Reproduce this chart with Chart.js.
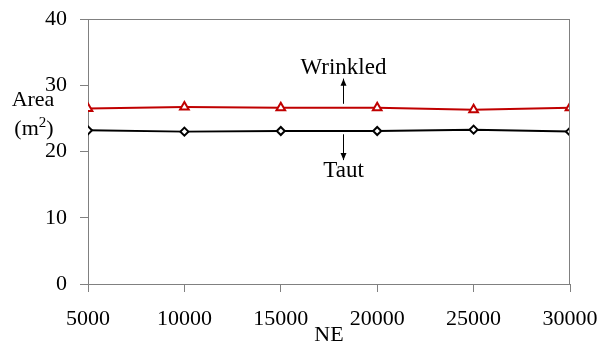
<!DOCTYPE html>
<html>
<head>
<meta charset="utf-8">
<script src="https://cdn.jsdelivr.net/npm/chart.js@4"></script>
<style>
html,body{margin:0;padding:0;background:#fff;}
#wrap{width:599px;height:348px;}
</style>
</head>
<body>
<div id="wrap"><canvas id="c" width="599" height="348"></canvas></div>
<script>
const categories = [5000, 10000, 15000, 20000, 25000, 30000];
const wrinkled = [26.5, 26.7, 26.6, 26.6, 26.3, 26.6];
const taut = [23.2, 23.0, 23.1, 23.1, 23.3, 23.0];
const yTicks = [0, 10, 20, 30, 40];
const xTitle = 'NE';
const yTitleLines = ['Area', '(m²)'];
const annotations = [
  {label: 'Wrinkled', x: 18250, from: 27.2, to: 31.0, textY: 32.6},
  {label: 'Taut', x: 18250, from: 22.6, to: 18.7, textY: 17.1}
];

const FONT = "'Liberation Serif', 'Times New Roman', serif";
const AXIS = '#808080';

const overlay = {
  id: 'overlay',
  afterDraw(chart) {
    const ctx = chart.ctx, a = chart.chartArea;
    const xs = chart.scales.x, ys = chart.scales.y;
    ctx.save();
    ctx.strokeStyle = AXIS; ctx.lineWidth = 1;
    ctx.beginPath();
    ctx.moveTo(a.left, a.top + 0.5); ctx.lineTo(a.right, a.top + 0.5);
    ctx.moveTo(a.right - 0.5, a.top); ctx.lineTo(a.right - 0.5, a.bottom);
    ctx.stroke();
    ctx.fillStyle = '#000';
    ctx.font = '22px ' + FONT;
    ctx.textAlign = 'center'; ctx.textBaseline = 'middle';
    ctx.fillText(yTitleLines[0], 33, 100);
    const p1 = '(m', p2 = '2', p3 = ')';
    ctx.font = '22px ' + FONT; const w1 = ctx.measureText(p1).width, w3 = ctx.measureText(p3).width;
    ctx.font = '15px ' + FONT; const w2 = ctx.measureText(p2).width;
    let x0 = 34 - (w1 + w2 + w3) / 2;
    ctx.textAlign = 'left';
    ctx.font = '22px ' + FONT; ctx.fillText(p1, x0, 129);
    ctx.font = '15px ' + FONT; ctx.fillText(p2, x0 + w1, 123);
    ctx.font = '22px ' + FONT; ctx.fillText(p3, x0 + w1 + w2, 129);
    ctx.textAlign = 'center';
    annotations.forEach(an => {
      const px = Math.round(xs.getPixelForValue(an.x)) + 0.5;
      const y1 = ys.getPixelForValue(an.from), y2 = ys.getPixelForValue(an.to);
      ctx.strokeStyle = '#000'; ctx.fillStyle = '#000'; ctx.lineWidth = 1;
      ctx.beginPath(); ctx.moveTo(px, y1); ctx.lineTo(px, y2); ctx.stroke();
      const dir = y2 < y1 ? -1 : 1;
      ctx.beginPath();
      ctx.moveTo(px, y2);
      ctx.lineTo(px - 3, y2 - dir * 7);
      ctx.lineTo(px + 3, y2 - dir * 7);
      ctx.closePath(); ctx.fill();
      ctx.font = '23px ' + FONT;
      ctx.fillText(an.label, px, ys.getPixelForValue(an.textY));
    });
    ctx.restore();
  }
};

new Chart(document.getElementById('c'), {
  type: 'line',
  data: {
    datasets: [
      {
        label: 'Wrinkled',
        data: categories.map((c, i) => ({x: c, y: wrinkled[i]})),
        borderColor: '#C00000', backgroundColor: '#fff',
        borderWidth: 2, pointStyle: 'triangle', pointRadius: 5,
        pointBorderWidth: 2, pointBorderColor: '#C00000', pointBackgroundColor: '#fff', tension: 0
      },
      {
        label: 'Taut',
        data: categories.map((c, i) => ({x: c, y: taut[i]})),
        borderColor: '#000', backgroundColor: '#fff',
        borderWidth: 2, pointStyle: 'rectRot', pointRadius: 4,
        pointBorderWidth: 2, pointBorderColor: '#000', pointBackgroundColor: '#fff', tension: 0
      }
    ]
  },
  options: {
    responsive: false, animation: false,
    layout: {padding: {left: 0, right: 29, top: 19, bottom: 0}},
    plugins: {legend: {display: false}, tooltip: {enabled: false}},
    scales: {
      x: {
        type: 'linear', min: 5000, max: 30000,
        afterBuildTicks(s) { s.ticks = categories.map(v => ({value: v})); },
        afterFit(s) { s.height = 64; s.paddingLeft = 0; s.paddingRight = 0; },
        grid: {drawOnChartArea: false, drawTicks: true, tickLength: 8, color: AXIS},
        border: {color: AXIS, width: 1},
        ticks: {color: '#000', font: {family: FONT, size: 22}, padding: 14, maxRotation: 0, autoSkip: false,
          callback: v => String(v)},
        title: {display: true, text: xTitle, color: '#000', font: {family: FONT, size: 22}, padding: {top: -6, bottom: 0}}
      },
      y: {
        min: 0, max: 40,
        afterBuildTicks(s) { s.ticks = yTicks.map(v => ({value: v})); },
        afterFit(s) { s.width = 88; s.paddingTop = 0; s.paddingBottom = 0; },
        grid: {drawOnChartArea: false, drawTicks: true, tickLength: 8, color: AXIS},
        border: {color: AXIS, width: 1},
        ticks: {color: '#000', font: {family: FONT, size: 22}, padding: 13}
      }
    }
  },
  plugins: [overlay]
});
</script>
</body>
</html>
